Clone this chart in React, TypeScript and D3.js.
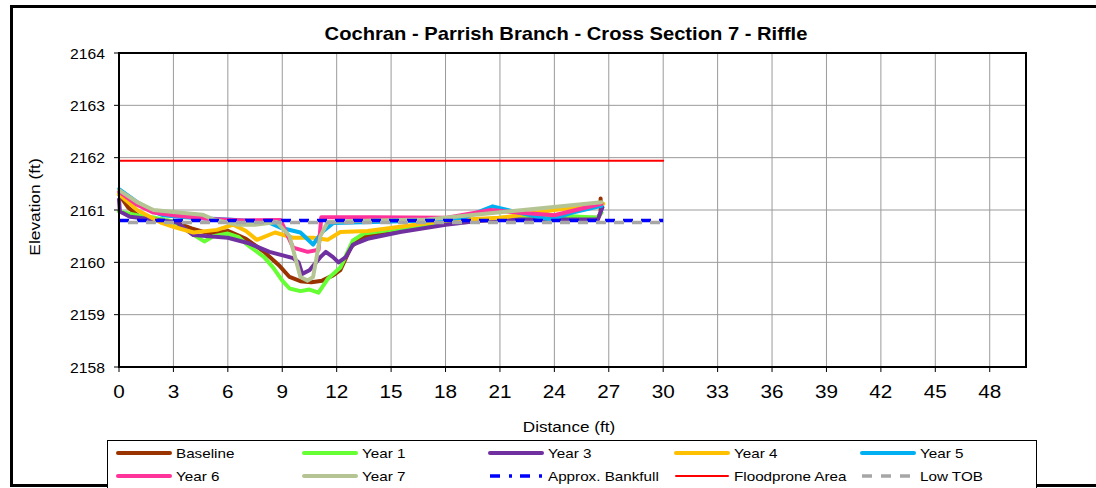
import React, { useEffect, useRef } from "react";
import * as d3 from "d3";

type Pt = [number, number];

// surveyed cross-section points: [distance (ft), elevation (ft)]
const baseline: Pt[] = [
  [0, 2161.3], [0.5, 2161.05], [1.1, 2160.88], [2, 2160.82], [3, 2160.78], [4, 2160.65],
  [5, 2160.55], [6, 2160.6], [7, 2160.45], [8, 2160.2], [8.8, 2159.95], [9.4, 2159.72],
  [10, 2159.64], [10.6, 2159.62], [11.2, 2159.65], [11.8, 2159.75], [12.2, 2159.85],
  [12.8, 2160.3], [13.5, 2160.5], [15, 2160.6], [17, 2160.7], [19, 2160.78], [21, 2160.82],
  [23, 2160.82], [25, 2160.85], [26.4, 2160.85], [26.55, 2160.95], [26.55, 2161.22],
];
const year1: Pt[] = [
  [0, 2160.97], [1, 2160.9], [2, 2160.85], [3, 2160.78], [4, 2160.55], [4.7, 2160.4],
  [5.2, 2160.5], [6, 2160.55], [6.6, 2160.48], [7.1, 2160.33], [8, 2160.1], [8.5, 2159.9],
  [9, 2159.65], [9.4, 2159.5], [10, 2159.45], [10.5, 2159.48], [11, 2159.42], [11.5, 2159.68],
  [12.2, 2159.9], [12.9, 2160.42], [13.5, 2160.55], [15, 2160.62], [17, 2160.7], [19, 2160.78],
  [21, 2160.85], [23, 2160.85], [24, 2160.9], [26.4, 2160.85], [26.6, 2160.95],
];
const year3: Pt[] = [
  [0, 2161.2], [0.05, 2160.97], [0.6, 2160.87], [1.7, 2160.83], [3.2, 2160.76], [4.1, 2160.52],
  [6, 2160.47], [7.1, 2160.37], [8.3, 2160.2], [9.6, 2160.08], [9.9, 2160.0], [10.1, 2159.78],
  [10.5, 2159.85], [11.1, 2160.1], [11.4, 2160.2], [11.8, 2160.1], [12.1, 2160.0], [12.5, 2160.1],
  [12.9, 2160.34], [13.7, 2160.45], [15.5, 2160.58], [18, 2160.72], [20, 2160.8], [22, 2160.82],
  [24, 2160.82], [26.4, 2160.82], [26.65, 2161.05],
];
const year4: Pt[] = [
  [0, 2161.3], [1, 2161.0], [2.3, 2160.76], [3, 2160.68], [4.1, 2160.57], [5.4, 2160.62],
  [6.3, 2160.72], [7, 2160.6], [7.6, 2160.43], [8.6, 2160.57], [9.6, 2160.47], [10.7, 2160.47],
  [11.5, 2160.43], [12.2, 2160.58], [13.7, 2160.6], [15.5, 2160.68], [18, 2160.8], [21, 2160.85],
  [24, 2161.0], [26.7, 2161.12],
];
const year5: Pt[] = [
  [0, 2161.4], [1, 2161.15], [1.9, 2160.97], [2.4, 2160.9], [4, 2160.85], [6, 2160.82],
  [8.2, 2160.77], [8.9, 2160.66], [10, 2160.57], [10.7, 2160.34], [11.2, 2160.58], [11.8, 2160.75],
  [14, 2160.77], [17, 2160.8], [19, 2160.85], [20.6, 2161.07], [22, 2160.95], [23.8, 2160.82],
  [25, 2160.95], [26.6, 2161.08],
];
const year6: Pt[] = [
  [0, 2161.35], [1, 2161.1], [1.9, 2160.95], [3, 2160.9], [5, 2160.83], [7, 2160.8],
  [8.9, 2160.81], [9.6, 2160.28], [10.4, 2160.2], [11, 2160.24], [11.15, 2160.86], [14, 2160.86],
  [18, 2160.85], [20.5, 2161.0], [22, 2160.95], [24, 2160.9], [26.6, 2161.12],
];
const year7: Pt[] = [
  [0, 2161.38], [1, 2161.15], [1.9, 2161.0], [3, 2160.96], [4.6, 2160.91], [5.2, 2160.82],
  [6.5, 2160.72], [7.5, 2160.72], [8.7, 2160.77], [9.4, 2160.5], [10, 2159.72], [10.4, 2159.65],
  [10.7, 2159.72], [11.1, 2160.5], [11.5, 2160.77], [14, 2160.8], [17, 2160.82], [26.6, 2161.15],
];
const bankfull: Pt[] = [[0, 2160.8], [30, 2160.8]];
const floodprone: Pt[] = [[0, 2161.94], [30, 2161.94]];
const lowTOB: Pt[] = [[0, 2160.76], [30, 2160.76]];

const xTicks = [0, 3, 6, 9, 12, 15, 18, 21, 24, 27, 30, 33, 36, 39, 42, 45, 48];
const yTicks = [2158, 2159, 2160, 2161, 2162, 2163, 2164];

interface Series {
  name: string;
  data: Pt[];
  color: string;
  width: number;
  dash?: string;
  dashOffset?: number;
  legendDash?: string;
}

const series: Series[] = [
  { name: "Baseline", data: baseline, color: "#993300", width: 4 },
  { name: "Year 1", data: year1, color: "#66FF33", width: 4 },
  { name: "Year 3", data: year3, color: "#7030A0", width: 4 },
  { name: "Year 4", data: year4, color: "#FFC000", width: 4 },
  { name: "Year 5", data: year5, color: "#00B0F0", width: 4 },
  { name: "Year 6", data: year6, color: "#FF3399", width: 4 },
  { name: "Year 7", data: year7, color: "#B5C493", width: 4 },
  { name: "Approx. Bankfull", data: bankfull, color: "#0000FF", width: 3.5, dash: "10,8", legendDash: "10,9,3,8" },
  { name: "Floodprone Area", data: floodprone, color: "#FF0000", width: 2 },
  { name: "Low TOB", data: lowTOB, color: "#A6A6A6", width: 3.5, dash: "10,8", dashOffset: 9, legendDash: "10,9" },
];

const W = 1096;
const H = 488;
const STRETCH = 1.12; // the source chart's text is a bit wider than plain Arial

export default function App() {
  const svgRef = useRef<SVGSVGElement>(null);

  useEffect(() => {
    if (!svgRef.current) return;
    const svg = d3.select(svgRef.current);
    svg.selectAll("*").remove();

    const left = 119, right = 1026, top = 53, bottom = 367;
    const x = d3.scaleLinear().domain([0, 50]).range([left, right]);
    const y = d3.scaleLinear().domain([2158, 2164]).range([bottom, top]);

    const label = (
      parent: d3.Selection<any, unknown, null, undefined>,
      tx: number,
      ty: number,
      txt: string | number,
      size: number,
      anchor = "start",
      rotate = 0,
    ) =>
      parent
        .append("text")
        .attr(
          "transform",
          `translate(${tx},${ty})${rotate ? ` rotate(${rotate})` : ""} scale(${STRETCH},1)`,
        )
        .attr("text-anchor", anchor)
        .style("font-size", `${size}px`)
        .text(txt);

    svg.append("rect").attr("width", W).attr("height", H).attr("fill", "#fff");

    // outer chart border
    svg
      .append("rect")
      .attr("x", 11.5)
      .attr("y", 6.5)
      .attr("width", W + 10)
      .attr("height", 479)
      .attr("fill", "none")
      .attr("stroke", "#000")
      .attr("stroke-width", 3);

    label(svg, 566, 40, "Cochran - Parrish Branch - Cross Section 7 - Riffle", 18, "middle").style(
      "font-weight",
      "bold",
    );

    // grid
    const grid = svg.append("g");
    grid
      .selectAll(".vg")
      .data(xTicks.slice(1))
      .enter()
      .append("line")
      .attr("x1", (d) => x(d))
      .attr("x2", (d) => x(d))
      .attr("y1", top)
      .attr("y2", bottom)
      .attr("stroke", "#9a9a9a")
      .attr("stroke-width", 1);
    grid
      .selectAll(".hg")
      .data(yTicks.slice(1, -1))
      .enter()
      .append("line")
      .attr("x1", left)
      .attr("x2", right)
      .attr("y1", (d) => y(d))
      .attr("y2", (d) => y(d))
      .attr("stroke", "#9a9a9a")
      .attr("stroke-width", 1);

    // series
    const line = d3
      .line<Pt>()
      .x((d) => x(d[0]))
      .y((d) => y(d[1]));
    const lines = svg.append("g");
    series.forEach((s) => {
      lines
        .append("path")
        .datum(s.data)
        .attr("d", line)
        .attr("fill", "none")
        .attr("stroke", s.color)
        .attr("stroke-width", s.width)
        .attr("stroke-linejoin", "round")
        .attr("stroke-linecap", s.dash ? "butt" : "round")
        .attr("stroke-dasharray", s.dash || null)
        .attr("stroke-dashoffset", s.dashOffset || 0);
    });

    // plot frame
    svg
      .append("rect")
      .attr("x", left)
      .attr("y", top)
      .attr("width", right - left)
      .attr("height", bottom - top)
      .attr("fill", "none")
      .attr("stroke", "#000")
      .attr("stroke-width", 2);

    // y axis
    const yAxis = svg.append("g");
    yTicks.forEach((t) => {
      yAxis
        .append("line")
        .attr("x1", left - 5)
        .attr("x2", left)
        .attr("y1", y(t))
        .attr("y2", y(t))
        .attr("stroke", "#000");
      label(yAxis, left - 14, y(t) + 5.5, t, 14, "end");
    });

    // x axis
    const xAxis = svg.append("g");
    xTicks.forEach((t) => {
      xAxis
        .append("line")
        .attr("x1", x(t))
        .attr("x2", x(t))
        .attr("y1", bottom)
        .attr("y2", bottom + 5)
        .attr("stroke", "#000");
      label(xAxis, x(t), bottom + 31, t, 18.5, "middle");
    });

    label(svg, 569, 432, "Distance (ft)", 15.3, "middle");
    label(svg, 40, 207, "Elevation (ft)", 15.5, "middle", -90);

    // legend
    svg
      .append("rect")
      .attr("x", 107.5)
      .attr("y", 440.5)
      .attr("width", 929)
      .attr("height", 60)
      .attr("fill", "#fff")
      .attr("stroke", "#000")
      .attr("stroke-width", 1);

    const legend = svg.append("g");
    series.forEach((s, i) => {
      const lx = 118 + (i % 5) * 186;
      const ly = 453 + Math.floor(i / 5) * 23;
      legend
        .append("line")
        .attr("x1", lx)
        .attr("x2", lx + 52)
        .attr("y1", ly)
        .attr("y2", ly)
        .attr("stroke", s.color)
        .attr("stroke-width", s.width)
        .attr("stroke-linecap", s.dash ? "butt" : "round")
        .attr("stroke-dasharray", s.legendDash || null);
      label(legend, lx + 58, ly + 5, s.name, 13.6);
    });
  }, []);

  return (
    <svg
      ref={svgRef}
      width={W}
      height={H}
      style={{ position: "absolute", left: 0, top: 0, fontFamily: "Arial, 'Liberation Sans', sans-serif" }}
    />
  );
}
